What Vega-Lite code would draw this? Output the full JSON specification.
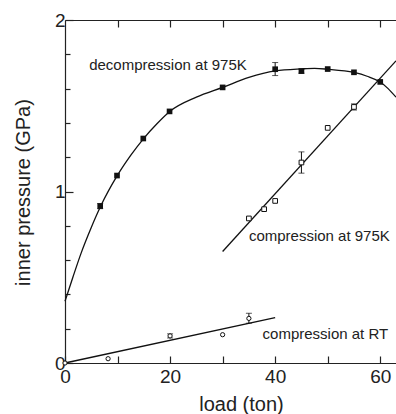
{
  "$schema": "https://vega.github.io/schema/vega-lite/v6.json",
  "width": 331,
  "height": 343,
  "autosize": "none",
  "padding": {"left": 65, "top": 20, "right": 0, "bottom": 51},
  "background": "white",
  "config": {
    "view": {"stroke": null},
    "font": "Liberation Sans",
    "axis": {
      "grid": false,
      "domainColor": "#222",
      "tickColor": "#222",
      "labelColor": "#222",
      "titleColor": "#222",
      "labelFont": "Liberation Sans",
      "titleFont": "Liberation Sans",
      "labelFontSize": 19,
      "titleFontSize": 20,
      "titleFontWeight": "normal",
      "domainWidth": 1.2,
      "tickWidth": 1.2,
      "labelOverlap": false,
      "labelFlush": false
    }
  },
  "datasets": {
    "fits": [
      {"series": "decompression", "load": 0, "p": 0.36},
      {"series": "decompression", "load": 1.5, "p": 0.5},
      {"series": "decompression", "load": 3, "p": 0.635},
      {"series": "decompression", "load": 5, "p": 0.79},
      {"series": "decompression", "load": 6.8, "p": 0.915},
      {"series": "decompression", "load": 10, "p": 1.095},
      {"series": "decompression", "load": 12.5, "p": 1.21},
      {"series": "decompression", "load": 15, "p": 1.31},
      {"series": "decompression", "load": 17.5, "p": 1.395},
      {"series": "decompression", "load": 20, "p": 1.468},
      {"series": "decompression", "load": 25, "p": 1.55},
      {"series": "decompression", "load": 30, "p": 1.607},
      {"series": "decompression", "load": 35, "p": 1.665},
      {"series": "decompression", "load": 40, "p": 1.703},
      {"series": "decompression", "load": 45, "p": 1.715},
      {"series": "decompression", "load": 47.5, "p": 1.718},
      {"series": "decompression", "load": 50, "p": 1.713},
      {"series": "decompression", "load": 55, "p": 1.694},
      {"series": "decompression", "load": 57.5, "p": 1.672},
      {"series": "decompression", "load": 60, "p": 1.638},
      {"series": "decompression", "load": 61.5, "p": 1.6},
      {"series": "decompression", "load": 63, "p": 1.55},
      {"series": "compression975", "load": 30, "p": 0.65},
      {"series": "compression975", "load": 63, "p": 1.762},
      {"series": "compressionRT", "load": 0, "p": 0},
      {"series": "compressionRT", "load": 40, "p": 0.265}
    ],
    "points": [
      {"series": "decompression", "load": 6.7, "p": 0.915},
      {"series": "decompression", "load": 9.9, "p": 1.093},
      {"series": "decompression", "load": 14.9, "p": 1.309},
      {"series": "decompression", "load": 19.9, "p": 1.467},
      {"series": "decompression", "load": 30, "p": 1.607},
      {"series": "decompression", "load": 40, "p": 1.713},
      {"series": "decompression", "load": 45, "p": 1.702},
      {"series": "decompression", "load": 50, "p": 1.714},
      {"series": "decompression", "load": 55, "p": 1.695},
      {"series": "decompression", "load": 60, "p": 1.639},
      {"series": "compression975", "load": 35, "p": 0.843},
      {"series": "compression975", "load": 37.9, "p": 0.897},
      {"series": "compression975", "load": 40, "p": 0.945},
      {"series": "compression975", "load": 45, "p": 1.169},
      {"series": "compression975", "load": 50, "p": 1.371},
      {"series": "compression975", "load": 55, "p": 1.493},
      {"series": "compressionRT", "load": 0, "p": 0},
      {"series": "compressionRT", "load": 8.2, "p": 0.025},
      {"series": "compressionRT", "load": 20, "p": 0.158},
      {"series": "compressionRT", "load": 30, "p": 0.165},
      {"series": "compressionRT", "load": 35, "p": 0.26}
    ],
    "errors": [
      {"load": 6.7, "lo": 0.9, "hi": 0.93},
      {"load": 40, "lo": 1.676, "hi": 1.752},
      {"load": 45, "lo": 1.69, "hi": 1.714},
      {"load": 45, "lo": 1.107, "hi": 1.231},
      {"load": 55, "lo": 1.475, "hi": 1.511},
      {"load": 35, "lo": 0.232, "hi": 0.29},
      {"load": 20, "lo": 0.146, "hi": 0.17}
    ],
    "notes": [
      {"text": "decompression at 975K", "load": 4.6, "p": 1.738},
      {"text": "compression at 975K", "load": 35, "p": 0.741},
      {"text": "compression at RT", "load": 37.6, "p": 0.172}
    ]
  },
  "resolve": {"axis": {"x": "independent", "y": "independent"}},
  "layer": [
    {
      "data": {"name": "fits"},
      "mark": {"type": "line", "color": "#111", "strokeWidth": 1.3, "interpolate": "monotone"},
      "encoding": {
        "x": {"field": "load", "type": "quantitative", "scale": {"domain": [0, 63], "nice": false},
          "axis": {"orient": "bottom", "values": [0, 10, 20, 30, 40, 50, 60], "tickSize": -7,
            "labelExpr": "datum.value % 20 == 0 ? format(datum.value, 'd') : ''",
            "labelPadding": 11, "title": "load (ton)", "titleX": 176, "titleY": 41, "titleBaseline": "middle", "titleAnchor": "middle"}},
        "y": {"field": "p", "type": "quantitative", "scale": {"domain": [0, 2], "nice": false},
          "axis": {"orient": "left", "values": [0, 0.2, 0.4, 0.6, 0.8, 1, 1.2, 1.4, 1.6, 1.8, 2],
            "tickSize": {"condition": {"test": "datum.value == 0 || datum.value == 1 || datum.value == 2", "value": -8}, "value": -5},
            "labelExpr": "datum.value == 0 || datum.value == 1 || datum.value == 2 ? format(datum.value, 'd') : ''",
            "labelPadding": 8, "title": "inner pressure (GPa)", "titleX": -42, "titleY": 172, "titleBaseline": "middle", "titleAnchor": "middle"}},
        "detail": {"field": "series"}
      }
    },
    {
      "data": {"name": "fits"},
      "mark": {"type": "point", "opacity": 0},
      "encoding": {
        "x": {"field": "load", "type": "quantitative", "scale": {"domain": [0, 63], "nice": false},
          "axis": {"orient": "top", "values": [10, 20, 30, 40, 50, 60], "tickSize": -7, "labels": false, "title": null}},
        "y": {"field": "p", "type": "quantitative", "scale": {"domain": [0, 2], "nice": false}, "axis": null}
      }
    },
    {
      "data": {"name": "errors"},
      "mark": {"type": "errorbar", "color": "#111", "thickness": 1, "ticks": {"size": 6, "color": "#111"}},
      "encoding": {
        "x": {"field": "load", "type": "quantitative", "scale": {"domain": [0, 63], "nice": false}, "axis": null},
        "y": {"field": "lo", "type": "quantitative", "scale": {"domain": [0, 2], "nice": false}, "axis": null},
        "y2": {"field": "hi"}
      }
    },
    {
      "data": {"name": "points"},
      "transform": [{"filter": "datum.series == 'decompression'"}],
      "mark": {"type": "square", "filled": true, "size": 32, "color": "#111", "opacity": 1},
      "encoding": {
        "x": {"field": "load", "type": "quantitative", "scale": {"domain": [0, 63], "nice": false}, "axis": null},
        "y": {"field": "p", "type": "quantitative", "scale": {"domain": [0, 2], "nice": false}, "axis": null}
      }
    },
    {
      "data": {"name": "points"},
      "transform": [{"filter": "datum.series == 'compression975'"}],
      "mark": {"type": "square", "filled": false, "size": 22, "color": "#111", "strokeWidth": 1, "fill": "white", "opacity": 1},
      "encoding": {
        "x": {"field": "load", "type": "quantitative", "scale": {"domain": [0, 63], "nice": false}, "axis": null},
        "y": {"field": "p", "type": "quantitative", "scale": {"domain": [0, 2], "nice": false}, "axis": null}
      }
    },
    {
      "data": {"name": "points"},
      "transform": [{"filter": "datum.series == 'compressionRT'"}],
      "mark": {"type": "point", "shape": "circle", "filled": false, "size": 18, "color": "#111", "strokeWidth": 1, "fill": "white", "opacity": 1},
      "encoding": {
        "x": {"field": "load", "type": "quantitative", "scale": {"domain": [0, 63], "nice": false}, "axis": null},
        "y": {"field": "p", "type": "quantitative", "scale": {"domain": [0, 2], "nice": false}, "axis": null}
      }
    },
    {
      "data": {"name": "notes"},
      "mark": {"type": "text", "align": "left", "baseline": "middle", "fontSize": 15, "color": "#222", "font": "Liberation Sans"},
      "encoding": {
        "x": {"field": "load", "type": "quantitative", "scale": {"domain": [0, 63], "nice": false}, "axis": null},
        "y": {"field": "p", "type": "quantitative", "scale": {"domain": [0, 2], "nice": false}, "axis": null},
        "text": {"field": "text"}
      }
    }
  ]
}
